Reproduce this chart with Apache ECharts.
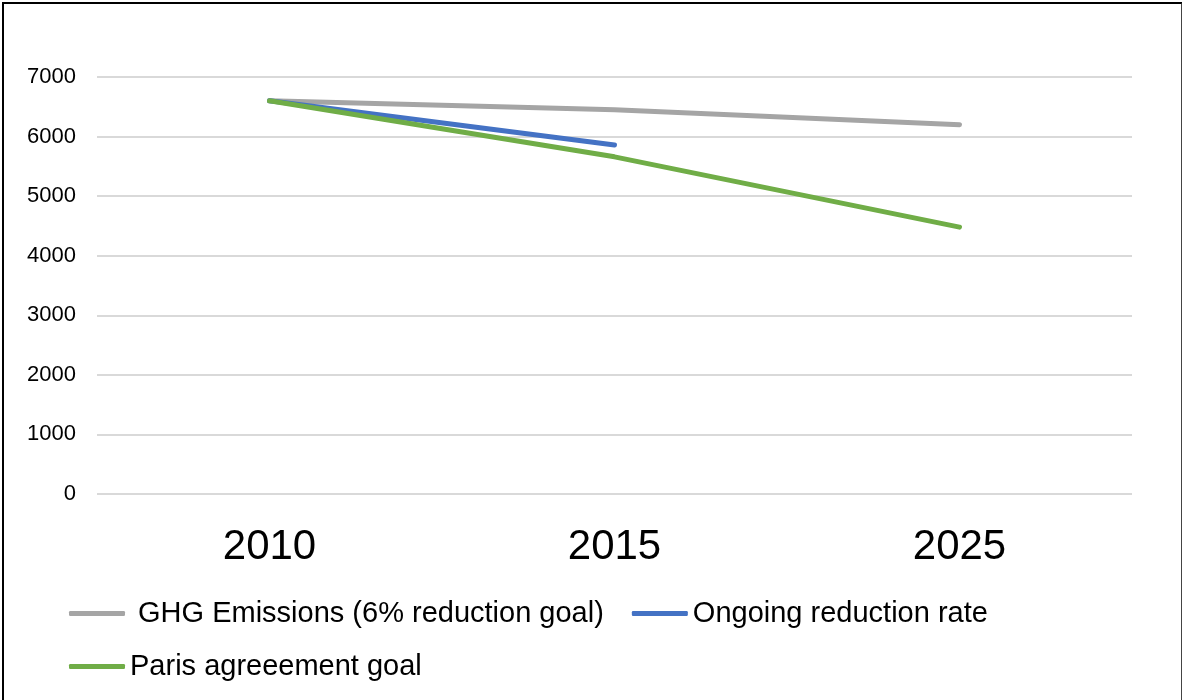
<!DOCTYPE html>
<html>
<head>
<meta charset="utf-8">
<script src="https://cdn.jsdelivr.net/npm/echarts@6/dist/echarts.min.js"></script>
<style>
  html, body { margin: 0; padding: 0; background: #fff; }
  #wrap { position: relative; width: 1182px; height: 700px; }
  #chart { position: absolute; left: 0; top: 0; width: 1182px; height: 700px; }
  #frame {
    position: absolute; left: 2px; top: 2px; width: 1177px; height: 698px;
    border-left: 2px solid #000; border-top: 2px solid #000; border-right: 2px solid #444;
    pointer-events: none;
  }
</style>
</head>
<body>
<div id="wrap">
  <div id="chart"></div>
  <div id="frame"></div>
</div>
<script>
// Emissions pathways (kt CO2e)
const years = ['2010', '2015', '2025'];
const ghgEmissions = [6600, 6450, 6200];
const ongoingRate = [6600, 5860, null];
const parisGoal = [6600, 5660, 4480];

const seriesNames = [' GHG Emissions (6% reduction goal)', 'Ongoing reduction rate', 'Paris agreeement goal'];
const seriesColors = ['#A5A5A5', '#4472C4', '#70AD47'];
const seriesData = [ghgEmissions, ongoingRate, parisGoal];

const FONT = 'Liberation Sans, Arial, sans-serif';

const chart = echarts.init(document.getElementById('chart'), null, { renderer: 'canvas' });

// shared legend look: thick rounded bar + large text
const legendBase = {
  left: 64,
  itemWidth: 56,
  itemHeight: 5,
  itemGap: 28,
  icon: 'roundRect',
  textStyle: { fontFamily: FONT, fontSize: 29, color: '#000' }
};

chart.setOption({
  animation: false,
  backgroundColor: '#fff',
  grid: { left: 97, right: 50, top: 77, bottom: 206, containLabel: false },
  legend: [
    Object.assign({}, legendBase, { top: 594, data: seriesNames.slice(0, 2) }),
    Object.assign({}, legendBase, { top: 647, data: seriesNames.slice(2) })
  ],
  xAxis: {
    type: 'category',
    data: years,
    boundaryGap: true,
    axisLine: { show: false },
    axisTick: { show: false },
    axisLabel: { fontFamily: FONT, fontSize: 42, color: '#000', margin: 32 }
  },
  yAxis: {
    type: 'value',
    min: 0,
    max: 7000,
    interval: 1000,
    axisLine: { show: false },
    axisTick: { show: false },
    axisLabel: {
      fontFamily: FONT, fontSize: 22, color: '#000', margin: 21,
      formatter: (v) => String(v)
    },
    splitLine: { lineStyle: { color: '#D9D9D9', width: 2 } }
  },
  series: seriesData.map((d, i) => ({
    name: seriesNames[i],
    type: 'line',
    data: d,
    symbol: 'none',
    connectNulls: false,
    color: seriesColors[i],
    lineStyle: { width: 5, color: seriesColors[i], cap: 'round', join: 'round' },
    z: i === 2 ? 3 : 2 + i
  }))
});
</script>
</body>
</html>
